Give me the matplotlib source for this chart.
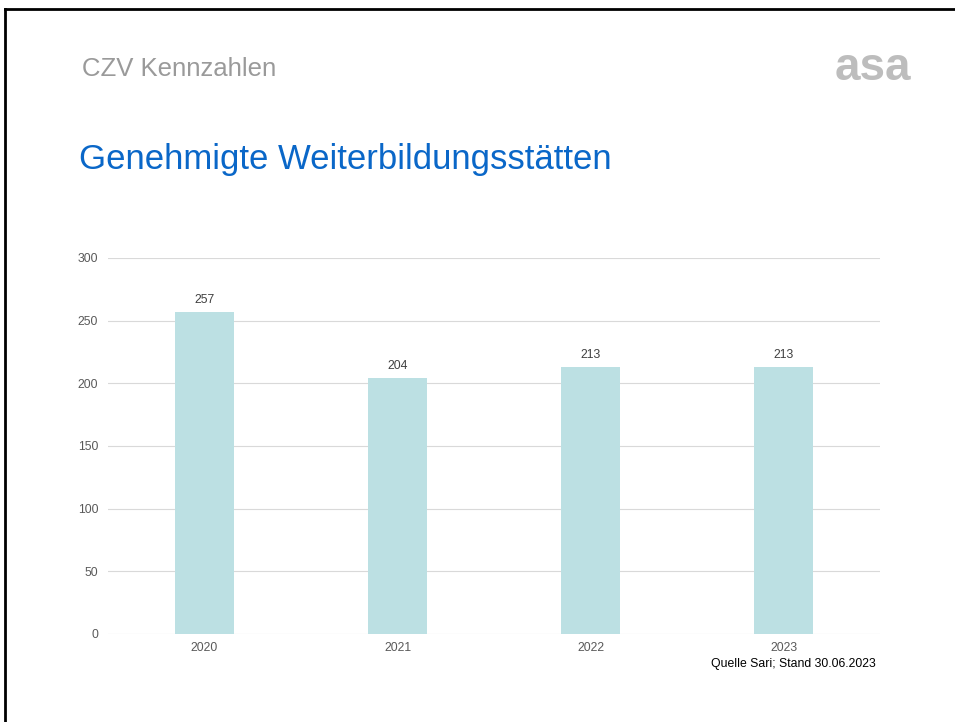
import matplotlib.pyplot as plt
from matplotlib.lines import Line2D

# Daten
jahre = ["2020", "2021", "2022", "2023"]
werte = [257, 204, 213, 213]
y_ticks = [0, 50, 100, 150, 200, 250, 300]

plt.rcParams['font.family'] = ['Liberation Sans', 'DejaVu Sans']

fig = plt.figure(figsize=(9.55, 7.22), dpi=100)
ax = fig.add_axes([108 / 955, 88 / 722, 772 / 955, 376 / 722])

# Balken
x = range(len(jahre))
bars = ax.bar(x, werte, width=0.31, color="#bce0e3", zorder=2)
for b, v in zip(bars, werte):
    ax.text(b.get_x() + b.get_width() / 2, v + 5, str(v), ha="center", va="bottom",
            fontsize=8.8, color="#404040")

ax.set_xlim(-0.5, len(jahre) - 0.5)
ax.set_ylim(0, 300)
ax.set_yticks(y_ticks)
ax.set_xticks(list(x))
ax.set_xticklabels(jahre)
ax.grid(axis="y", color="#d9d9d9", linewidth=0.8, zorder=0)
ax.tick_params(axis="both", length=0, labelsize=8.8, labelcolor="#595959")
ax.tick_params(axis="y", pad=7)
ax.tick_params(axis="x", pad=6)
for s in ax.spines.values():
    s.set_visible(False)

# Texte der Folie
fig.text(82 / 955, 1 - 69 / 722, "CZV Kennzahlen", fontsize=18.5, color="#9a9a9a",
         ha="left", va="center")
fig.text(911 / 955, 1 - 68 / 722, "asa", fontsize=33, fontweight="bold", color="#bdbdbd",
         ha="right", va="center")
fig.text(79 / 955, 1 - 160 / 722, "Genehmigte Weiterbildungsstätten", fontsize=25,
         color="#0a67c8", ha="left", va="center")
fig.text(876 / 955, 1 - 664 / 722, "Quelle Sari; Stand 30.06.2023", fontsize=8.8,
         color="black", ha="right", va="center")

# Rahmen oben und links
fig.add_artist(Line2D([5 / 955, 1], [1 - 9 / 722, 1 - 9 / 722], color="black", linewidth=2,
                      transform=fig.transFigure))
fig.add_artist(Line2D([5 / 955, 5 / 955], [0, 1 - 9 / 722], color="black", linewidth=2,
                      transform=fig.transFigure))

fig.savefig("out.png", dpi=100)
